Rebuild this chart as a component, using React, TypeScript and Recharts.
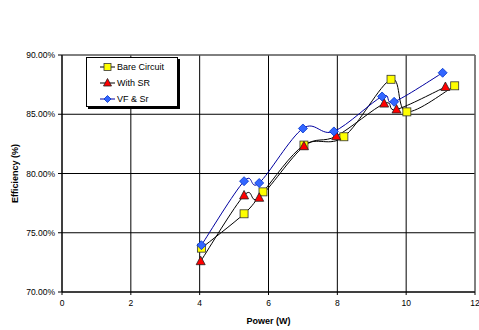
import React from 'react';
import { LineChart, Line, XAxis, YAxis, CartesianGrid, ReferenceLine, Label } from 'recharts';

const bareX = [4.05, 5.29, 5.84, 7.03, 8.19, 9.56, 10.02, 11.41];
const bareY = [73.7, 76.6, 78.45, 82.4, 83.1, 87.95, 85.2, 87.4];
const srX = [4.03, 5.29, 5.73, 7.03, 7.97, 9.36, 9.72, 11.14];
const srY = [72.6, 78.15, 77.95, 82.3, 83.15, 85.9, 85.4, 87.3];
const vfX = [4.05, 5.29, 5.73, 7.0, 7.9, 9.3, 9.65, 11.06];
const vfY = [73.95, 79.35, 79.2, 83.8, 83.55, 86.5, 86.05, 88.5];

const xTicks = [0, 2, 4, 6, 8, 10, 12];
const yTicks = [70, 75, 80, 85, 90];
const seriesNames = ['Bare Circuit', 'With SR', 'VF & Sr'];

const toData = (xs: number[], ys: number[]) => xs.map((x, i) => ({ x, y: ys[i] }));
const bareData = toData(bareX, bareY);
const srData = toData(srX, srY);
const vfData = toData(vfX, vfY);

// Excel-like smoothed line (Catmull-Rom through points)
const excelCurve = (context: any) => {
  let pts: number[][] = [];
  return {
    areaStart() {},
    areaEnd() {},
    lineStart() { pts = []; },
    lineEnd() {
      if (!pts.length) return;
      context.moveTo(pts[0][0], pts[0][1]);
      for (let i = 0; i < pts.length - 1; i++) {
        const p0 = pts[i - 1] || pts[i];
        const p1 = pts[i];
        const p2 = pts[i + 1];
        const p3 = pts[i + 2] || p2;
        context.bezierCurveTo(
          p1[0] + (p2[0] - p0[0]) / 6, p1[1] + (p2[1] - p0[1]) / 6,
          p2[0] - (p3[0] - p1[0]) / 6, p2[1] - (p3[1] - p1[1]) / 6,
          p2[0], p2[1]
        );
      }
    },
    point(x: number, y: number) { pts.push([+x, +y]); },
  };
};

const Square = (props: any) => {
  const { cx, cy } = props;
  if (cx == null || cy == null) return null;
  return <rect x={cx - 4} y={cy - 4} width={8} height={8} fill="#FFFF00" stroke="#333" strokeWidth={0.8} />;
};
const Tri = (props: any) => {
  const { cx, cy } = props;
  if (cx == null || cy == null) return null;
  return <polygon points={`${cx},${cy - 5} ${cx + 4.5},${cy + 3.5} ${cx - 4.5},${cy + 3.5}`} fill="#FF0000" stroke="#222" strokeWidth={0.8} />;
};
const Diamond = (props: any) => {
  const { cx, cy } = props;
  if (cx == null || cy == null) return null;
  return <polygon points={`${cx},${cy - 4.5} ${cx + 4.5},${cy} ${cx},${cy + 4.5} ${cx - 4.5},${cy}`} fill="#3366FF" stroke="#0033CC" strokeWidth={0.8} />;
};

const font = 'Liberation Sans, Arial, sans-serif';

const LegendBox = () => {
  const icons = [
    { color: '#000', marker: (<rect x={17} y={4.5} width={7} height={7} fill="#FFFF00" stroke="#333" strokeWidth={0.8} />) },
    { color: '#000', marker: (<polygon points="20.5,3.5 24.5,11 16.5,11" fill="#FF0000" stroke="#222" strokeWidth={0.8} />) },
    { color: '#0000A0', marker: (<polygon points="20.5,4.5 24,8 20.5,11.5 17,8" fill="#3366FF" stroke="#0033CC" strokeWidth={0.8} />) },
  ];
  return (
    <div style={{ position: 'absolute', left: 86, top: 57, width: 92, height: 50, border: '1px solid #000', background: '#fff', boxShadow: '2px 2px 0 #000', boxSizing: 'border-box', fontFamily: font, fontSize: 9, color: '#000', paddingTop: 1 }}>
      {seriesNames.map((n, i) => (
        <div key={n} style={{ height: 16, display: 'flex', alignItems: 'center' }}>
          <svg width={30} height={16}>
            <line x1={13} y1={8} x2={28} y2={8} stroke={icons[i].color} strokeWidth={1} />
            {icons[i].marker}
          </svg>
          <span>{n}</span>
        </div>
      ))}
    </div>
  );
};

export default function App() {
  return (
    <div style={{ position: 'absolute', left: 0, top: 0, width: 479, height: 330, background: '#fff' }}>
      <LineChart width={479} height={330} margin={{ top: 55, right: 4, left: 0, bottom: 0 }}>
        <CartesianGrid stroke="#000" strokeWidth={1} />
        <XAxis
          type="number"
          dataKey="x"
          domain={[0, 12]}
          ticks={xTicks}
          interval={0}
          allowDuplicatedCategory={false}
          height={38}
          tickSize={3}
          tickMargin={5}
          stroke="#000"
          tick={{ fill: '#000', fontSize: 8.5, fontFamily: font }}
        >
          <Label value="Power (W)" position="insideBottom" offset={6} style={{ fontSize: 9, fontWeight: 'bold', fontFamily: font, fill: '#000' }} />
        </XAxis>
        <YAxis
          type="number"
          domain={[70, 90]}
          ticks={yTicks}
          interval={0}
          width={62}
          tickSize={4}
          tickMargin={3}
          stroke="#000"
          tickFormatter={(v: number) => `${v.toFixed(2)}%`}
          tick={{ fill: '#000', fontSize: 8.5, fontFamily: font }}
        >
          <Label
            content={(p: any) => {
              const vb = p.viewBox || {};
              const x = (vb.x || 0) + 15;
              const y = (vb.y || 0) + (vb.height || 0) / 2;
              return (
                <text x={x} y={y} transform={`rotate(-90 ${x} ${y})`} textAnchor="middle" dominantBaseline="central" style={{ fontSize: 9, fontWeight: 'bold', fontFamily: font, fill: '#000' }}>
                  Efficiency (%)
                </text>
              );
            }}
          />
        </YAxis>
        <ReferenceLine y={90} stroke="#808080" />
        <ReferenceLine x={12} stroke="#808080" />
        <Line data={bareData} dataKey="y" name={seriesNames[0]} type={excelCurve as any} stroke="#000" strokeWidth={1} dot={<Square />} activeDot={false} isAnimationActive={false} />
        <Line data={srData} dataKey="y" name={seriesNames[1]} type={excelCurve as any} stroke="#000" strokeWidth={1} dot={<Tri />} activeDot={false} isAnimationActive={false} />
        <Line data={vfData} dataKey="y" name={seriesNames[2]} type={excelCurve as any} stroke="#0000A0" strokeWidth={1} dot={<Diamond />} activeDot={false} isAnimationActive={false} />
      </LineChart>
      <LegendBox />
    </div>
  );
}
